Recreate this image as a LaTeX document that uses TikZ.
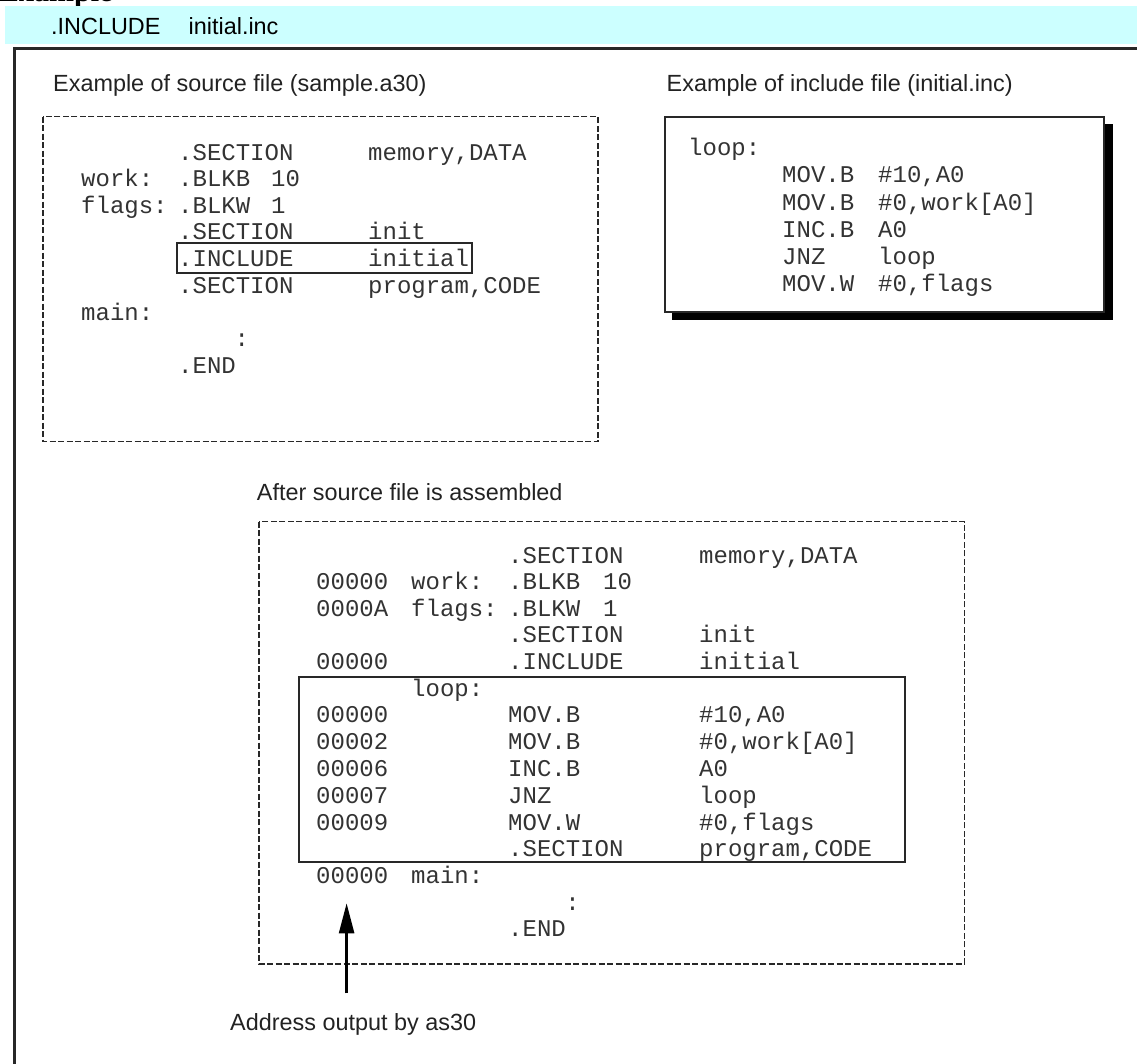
\documentclass[tikz,border=0pt]{standalone}
\usepackage{fontspec}
\setmainfont{Liberation Sans}
\newfontfamily\codefam{Liberation Mono}
\newfontfamily\headfam{Liberation Serif}
\usetikzlibrary{arrows.meta}
\definecolor{band}{RGB}{204,255,255}
\definecolor{ink}{RGB}{34,34,34}
\definecolor{codeink}{RGB}{51,51,51}
\definecolor{rule}{RGB}{40,40,40}

\begin{document}
\begin{tikzpicture}[x=1pt,y=-1pt,
  lbl/.style={font=\fontsize{23.4}{28}\selectfont, text=ink, anchor=base west, inner sep=0pt},
  code/.style={font=\codefam\fontsize{24}{28}\selectfont, text=codeink, anchor=base west, inner sep=0pt},
  dashbox/.style={draw=rule, line width=1.4pt, dash pattern=on 6pt off 2.5pt},
  solidbox/.style={draw=rule, line width=2pt},
  pointer/.style={draw=black, line width=2.5pt, -{Triangle[length=30pt,width=15pt]}}]
\useasboundingbox (0,0) rectangle (1137,1064);

% heading above the band
\node[font=\headfam\bfseries\fontsize{30}{34}\selectfont, anchor=base west, inner sep=0pt] (heading) at (-1,1.5) {Example};

% title band
\fill[band] (5,6) rectangle (1140,44);
\node[lbl, text=black] (dir) at (51,35) {.INCLUDE};
\node[lbl, text=black] (dirarg) at (188.5,35) {initial.inc};

% outer frame (open towards right and bottom)
\draw[rule, line width=2.7pt] (14.5,1070) -- (14.5,48.5) -- (1140,48.5);

% ---------- source file ----------
\node[lbl] (srccap) at (53,91.7) {Example of source file (sample.a30)};
\draw[dashbox] (43,116.7) rectangle (597.9,441.7);
\draw[solidbox] (176.8,243) rectangle (471.9,273.5);
\node[code] (s1i) at (178,160.7) {.SECTION};
\node[code] (s1o) at (368,160.7) {memory,DATA};
\node[code] (s2l) at (81,186.7) {work:};
\node[code] (s2i) at (178,186.7) {.BLKB};
\node[code] (s2v) at (271,186.7) {10};
\node[code] (s3l) at (81,213.3) {flags:};
\node[code] (s3i) at (178,213.3) {.BLKW};
\node[code] (s3v) at (271,213.3) {1};
\node[code] (s4i) at (178,240) {.SECTION};
\node[code] (s4o) at (368,240) {init};
\node[code] (s5i) at (178,266.7) {.INCLUDE};
\node[code] (s5o) at (368,266.7) {initial};
\node[code] (s6i) at (178,293.3) {.SECTION};
\node[code] (s6o) at (368,293.3) {program,CODE};
\node[code] (s7l) at (81,320) {main:};
\node[code, anchor=base] (s8) at (241.8,346.7) {:};
\node[code] (s9i) at (178,373.3) {.END};

% ---------- include file ----------
\node[lbl] (inccap) at (666.5,91.7) {Example of include file (initial.inc)};
\fill[black] (672,124.5) rectangle (1112.7,320);
\draw[solidbox, fill=white, line width=2.3pt] (665,117.3) rectangle (1104,311.7);
\node[code] (i0) at (688,155.7) {loop:};
\node[code] (i1m) at (782,182.9) {MOV.B};
\node[code] (i1o) at (878,182.9) {\#10,A0};
\node[code] (i2m) at (782,210.1) {MOV.B};
\node[code] (i2o) at (878,210.1) {\#0,work[A0]};
\node[code] (i3m) at (782,237.3) {INC.B};
\node[code] (i3o) at (878,237.3) {A0};
\node[code] (i4m) at (782,264.5) {JNZ};
\node[code] (i4o) at (878,264.5) {loop};
\node[code] (i5m) at (782,291.7) {MOV.W};
\node[code] (i5o) at (878,291.7) {\#0,flags};

% ---------- assembled listing ----------
\node[lbl] (lstcap) at (256.7,500) {After source file is assembled};
\draw[dashbox] (258.9,521.7) rectangle (964.4,964);
\draw[solidbox] (299,676.7) rectangle (904.7,861.7);
\node[code] (a1i) at (508,563.3) {.SECTION};
\node[code] (a1o) at (699,563.3) {memory,DATA};
\node[code] (a2a) at (316,589.3) {00000};
\node[code] (a2l) at (411,589.3) {work:};
\node[code] (a2i) at (508,589.3) {.BLKB};
\node[code] (a2v) at (603,589.3) {10};
\node[code] (a3a) at (316,616) {0000A};
\node[code] (a3l) at (411,616) {flags:};
\node[code] (a3i) at (508,616) {.BLKW};
\node[code] (a3v) at (603,616) {1};
\node[code] (a4i) at (508,642.7) {.SECTION};
\node[code] (a4o) at (699,642.7) {init};
\node[code] (a5a) at (316,669.3) {00000};
\node[code] (a5i) at (508,669.3) {.INCLUDE};
\node[code] (a5o) at (699,669.3) {initial};
\node[code] (a6l) at (411,696) {loop:};
\node[code] (a7a) at (316,722.7) {00000};
\node[code] (a7i) at (508,722.7) {MOV.B};
\node[code] (a7o) at (699,722.7) {\#10,A0};
\node[code] (a8a) at (316,749.3) {00002};
\node[code] (a8i) at (508,749.3) {MOV.B};
\node[code] (a8o) at (699,749.3) {\#0,work[A0]};
\node[code] (a9a) at (316,776) {00006};
\node[code] (a9i) at (508,776) {INC.B};
\node[code] (a9o) at (699,776) {A0};
\node[code] (a10a) at (316,803.3) {00007};
\node[code] (a10i) at (508,803.3) {JNZ};
\node[code] (a10o) at (699,803.3) {loop};
\node[code] (a11a) at (316,830) {00009};
\node[code] (a11i) at (508,830) {MOV.W};
\node[code] (a11o) at (699,830) {\#0,flags};
\node[code] (a12i) at (508,856.7) {.SECTION};
\node[code] (a12o) at (699,856.7) {program,CODE};
\node[code] (a13a) at (316,883.3) {00000};
\node[code] (a13l) at (411,883.3) {main:};
\node[code, anchor=base] (a14) at (572.5,910) {:};
\node[code] (a15i) at (508,936.3) {.END};

% address pointer
\node[lbl] (addr) at (230,1030) {Address output by as30};
\coordinate (addrtail) at (346.6,993.3);
\coordinate (addrtip) at (346.6,903.3);
\draw[pointer] (addrtail) -- (addrtip);
\end{tikzpicture}
\end{document}
